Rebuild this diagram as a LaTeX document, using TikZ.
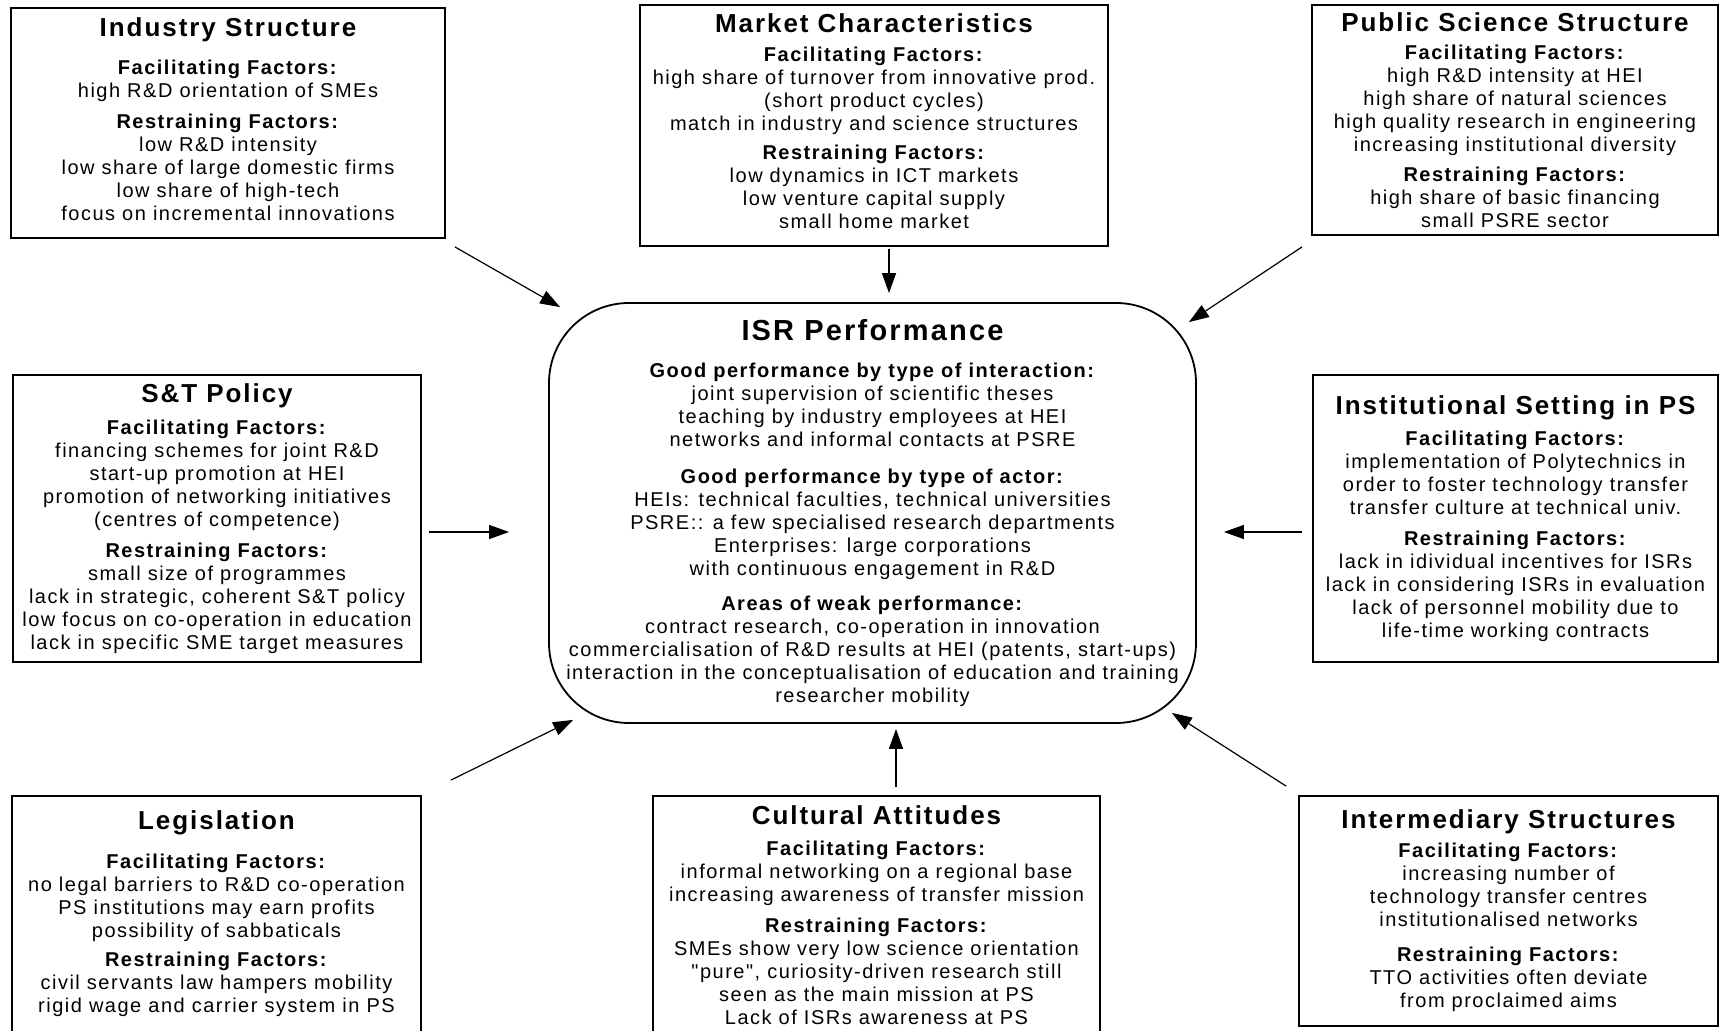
\documentclass[tikz,border=0pt]{standalone}
\usepackage{fontspec}
\setmainfont{Liberation Sans}[LetterSpace=7.5,Ligatures=TeXOff]
\usetikzlibrary{arrows.meta}
\newcommand{\boxtitle}[1]{{\fontsize{13}{13}\selectfont\bfseries #1}}
\tikzset{
  factor/.style={draw, line width=0.9pt, align=center, inner sep=2pt, font=\fontsize{10}{11.5}\selectfont},
  perf/.style={factor, rounded corners=40pt},
  arr/.style={-{Triangle[length=10pt,width=7pt]}, line width=0.6pt}
}

\begin{document}
\begin{tikzpicture}[x=0.5pt,y=-0.5pt]
\useasboundingbox (0,0) rectangle (1720,1031);
\clip (0,0) rectangle (1720,1031);
\node[factor, minimum width=217pt, minimum height=115pt] (ind) at (228,123) {%
  \boxtitle{Industry Structure}\\[7.7pt]
  \textbf{Facilitating Factors:}\\
  high R\&D orientation of SMEs\\[3.9pt]
  \textbf{Restraining Factors:}\\
  low R\&D intensity\\
  low share of large domestic firms\\
  low share of high-tech\\
  focus on incremental innovations\rule[-3.8pt]{0pt}{3.8pt}};
\node[factor, minimum width=234pt, minimum height=120.5pt] (mkt) at (874,125.5) {%
  \boxtitle{Market Characteristics}\\[2.9pt]
  \textbf{Facilitating Factors:}\\
  high share of turnover from innovative prod.\\
  (short product cycles)\\
  match in industry and science structures\\[3.3pt]
  \textbf{Restraining Factors:}\\
  low dynamics in ICT markets\\
  low venture capital supply\\
  small home market\rule[-4.4pt]{0pt}{4.4pt}};
\node[factor, minimum width=203pt, minimum height=115pt] (pss) at (1515,120) {%
  \boxtitle{Public Science Structure}\\[2.8pt]
  \textbf{Facilitating Factors:}\\
  high R\&D intensity at HEI\\
  high share of natural sciences\\
  high quality research in engineering\\
  increasing institutional diversity\\[3.3pt]
  \textbf{Restraining Factors:}\\
  high share of basic financing\\
  small PSRE sector};
\node[factor, minimum width=204pt, minimum height=143.5pt] (stp) at (217,518.5) {%
  \boxtitle{S\&T Policy}\\[4.4pt]
  \textbf{Facilitating Factors:}\\
  financing schemes for joint R\&D\\
  start-up promotion at HEI\\
  promotion of networking initiatives\\
  (centres of competence)\\[3.9pt]
  \textbf{Restraining Factors:}\\
  small size of programmes\\
  lack in strategic, coherent S\&T policy\\
  low focus on co-operation in education\\
  lack in specific SME target measures};
\node[perf, minimum width=323.5pt, minimum height=210pt] (isr) at (872.5,513) {%
  {\fontsize{14.5}{14.5}\selectfont\bfseries ISR Performance}\\[7.1pt]
  \textbf{Good performance by type of interaction:}\\
  joint supervision of scientific theses\\
  teaching by industry employees at HEI\\
  networks and informal contacts at PSRE\\[6.6pt]
  \textbf{Good performance by type of actor:}\\
  HEIs: technical faculties, technical universities\\
  PSRE:: a few specialised research departments\\
  Enterprises: large corporations\\
  with continuous engagement in R\&D\\[6.1pt]
  \textbf{Areas of weak performance:}\\
  contract research, co-operation in innovation\\
  commercialisation of R\&D results at HEI (patents, start-ups)\\
  interaction in the conceptualisation of education and training\\
  researcher mobility};
\node[factor, minimum width=202.5pt, minimum height=143.5pt] (ins) at (1515.5,518.5) {%
  \boxtitle{Institutional Setting in PS}\\[4.4pt]
  \textbf{Facilitating Factors:}\\
  implementation of Polytechnics in\\
  order to foster technology transfer\\
  transfer culture at technical univ.\\[3.9pt]
  \textbf{Restraining Factors:}\\
  lack in idividual incentives for ISRs\\
  lack in considering ISRs in evaluation\\
  lack of personnel mobility due to\\
  life-time working contracts};
\node[factor, minimum width=204.5pt, minimum height=118pt] (leg) at (216.5,914) {%
  \boxtitle{Legislation}\\[7.8pt]
  \textbf{Facilitating Factors:}\\
  no legal barriers to R\&D co-operation\\
  PS institutions may earn profits\\
  possibility of sabbaticals\\[3.3pt]
  \textbf{Restraining Factors:}\\
  civil servants law hampers mobility\\
  rigid wage and carrier system in PS};
\node[factor, minimum width=223.5pt, minimum height=119pt] (cul) at (876.5,915) {%
  \boxtitle{Cultural Attitudes}\\[4.4pt]
  \textbf{Facilitating Factors:}\\
  informal networking on a regional base\\
  increasing awareness of transfer mission\\[3.9pt]
  \textbf{Restraining Factors:}\\
  SMEs show very low science orientation\\
  "pure", curiosity-driven research still\\
  seen as the main mission at PS\\
  Lack of ISRs awareness at PS};
\node[factor, minimum width=209.5pt, minimum height=115pt] (int) at (1508.5,911) {%
  \boxtitle{Intermediary Structures}\\[2.9pt]
  \textbf{Facilitating Factors:}\\
  increasing number of\\
  technology transfer centres\\
  institutionalised networks\\[6.1pt]
  \textbf{Restraining Factors:}\\
  TTO activities often deviate\\
  from proclaimed aims};
\draw[arr] ([shift={(9,8)}]ind.south east) -- ([shift={(12,5)}]isr.north west);
\draw[arr] ([shift={(15,2)}]mkt.south) -- ([shift={(16.5,-9)}]isr.north);
\draw[arr] ([shift={(-9,11)}]pss.south west) -- ([shift={(-8,20)}]isr.north east);
\draw[arr] ([shift={(7,13.5)}]stp.east) -- ([shift={(-39,19)}]isr.west);
\draw[arr] ([shift={(-10,13.5)}]ins.west) -- ([shift={(27,19)}]isr.east);
\draw[arr] ([shift={(29,-15)}]leg.north east) -- ([shift={(25,-4)}]isr.south west);
\draw[arr] ([shift={(19.5,-8)}]cul.north) -- ([shift={(23.5,5)}]isr.south);
\draw[arr] ([shift={(-12,-9)}]int.north west) -- ([shift={(-25,-11)}]isr.south east);
\end{tikzpicture}
\end{document}
